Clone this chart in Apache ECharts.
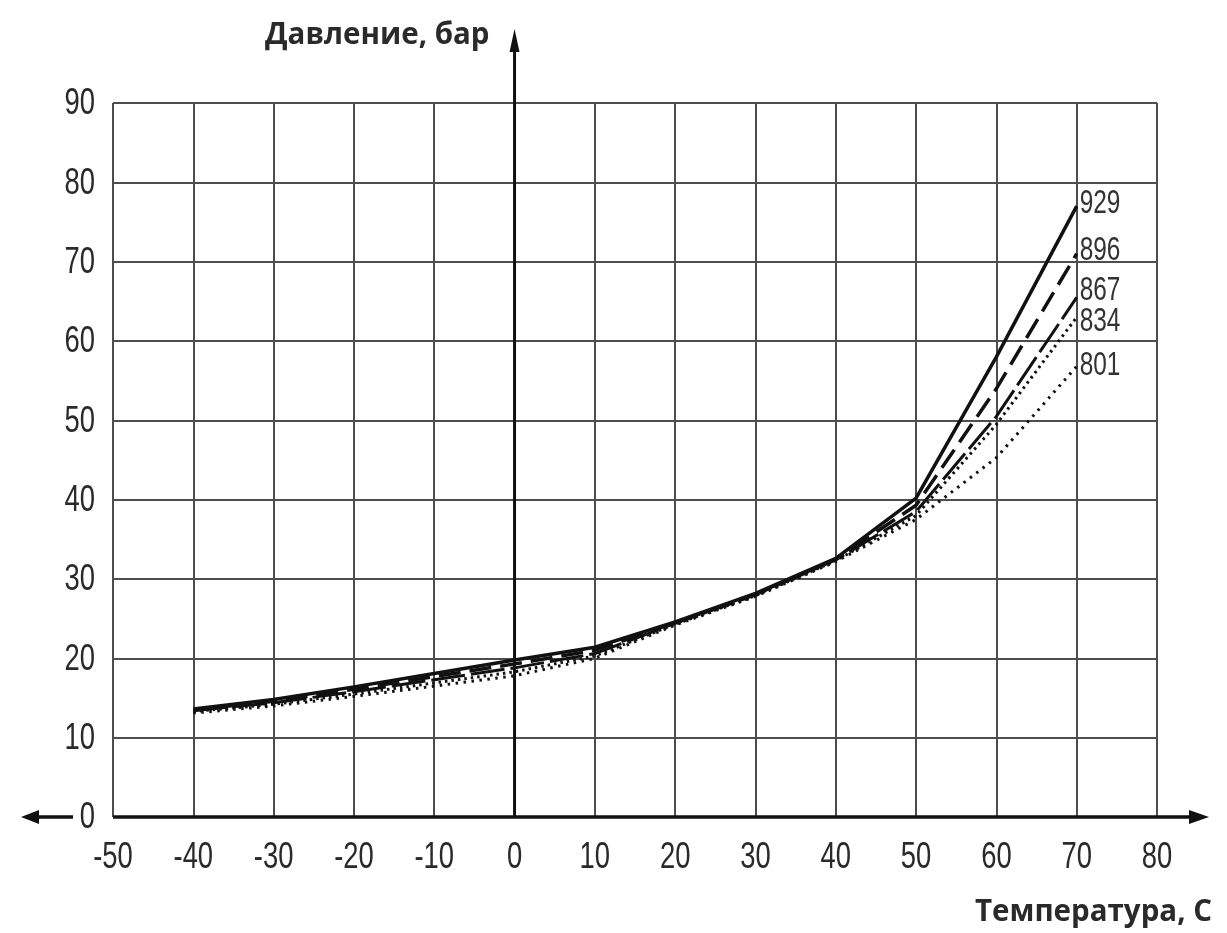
<!DOCTYPE html>
<html><head><meta charset="utf-8">
<script src="https://cdn.jsdelivr.net/npm/echarts@6/dist/echarts.min.js"></script>
<style>html,body{margin:0;padding:0;background:#fff}#c{width:1227px;height:933px}</style>
</head><body><div id="c"></div>
<script>
// ---- data ----
const temps = [-40, -30, -20, -10, 0, 10, 20, 30, 40, 50, 60, 70];
const s929 = [13.6, 14.8, 16.4, 18.1, 19.8, 21.4, 24.6, 28.2, 32.6, 40.2, 58.0, 77.0];
const s896 = [13.5, 14.6, 16.1, 17.7, 19.3, 21.0, 24.5, 28.1, 32.5, 39.3, 54.0, 71.0];
const s867 = [13.4, 14.4, 15.8, 17.3, 18.8, 20.6, 24.4, 28.0, 32.4, 38.5, 50.5, 65.5];
const s834 = [13.3, 14.2, 15.5, 16.9, 18.3, 20.3, 24.3, 27.9, 32.3, 38.0, 49.5, 63.0];
const s801 = [13.1, 14.0, 15.2, 16.5, 17.8, 20.0, 24.2, 27.8, 32.2, 37.5, 45.3, 56.8];
const seriesNames = ['929', '896', '867', '834', '801'];
const xTickLabels = ['-50', '-40', '-30', '-20', '-10', '0', '10', '20', '30', '40', '50', '60', '70', '80'];
const yTickLabels = ['0', '10', '20', '30', '40', '50', '60', '70', '80', '90'];
const xMin = -50, xMax = 80, xStep = 10;
const yMin = 0, yMax = 90, yStep = 10;
const xAxisTitle = 'Температура, С';
const yAxisTitle = 'Давление, бар';

// ---- styles ----
const narrowFont = "37px 'Liberation Sans', Arial, sans-serif";
const narrowScale = 0.74;
const endFont = "33px 'Liberation Sans', Arial, sans-serif";
const boldFont = "bold 29.5px 'Open Sans', 'Noto Sans', 'DejaVu Sans', sans-serif";
const textColor = '#2a2a2a';
const styles = [
  { type: 'solid', width: 3.5, dy: -2 },
  { type: [22, 9], width: 3.5, dy: -3 },
  { type: [34, 6], width: 3, dy: -6 },
  { type: [2.5, 4], width: 3, dy: 5 },
  { type: [2.5, 5.5], width: 3, dy: 0 }
];
const allValues = [s929, s896, s867, s834, s801];

const chart = echarts.init(document.getElementById('c'), null, { renderer: 'canvas' });
const series = allValues.map((vals, i) => ({
  name: seriesNames[i],
  type: 'line',
  data: temps.map((t, k) => [t, vals[k]]),
  symbol: 'none',
  smooth: false,
  lineStyle: { color: '#111', width: styles[i].width, type: styles[i].type },
  z: 5 - i
}));

chart.setOption({
  animation: false,
  backgroundColor: '#fff',
  grid: { left: 113, right: 70, top: 103, bottom: 116 },
  xAxis: {
    type: 'value', min: xMin, max: xMax, interval: xStep,
    axisLine: { show: false }, axisTick: { show: false },
    axisLabel: { show: false },
    splitLine: { show: true, lineStyle: { color: '#4d4d4d', width: 2 } }
  },
  yAxis: {
    type: 'value', min: yMin, max: yMax, interval: yStep,
    axisLine: { show: false }, axisTick: { show: false },
    axisLabel: { show: false },
    splitLine: { show: true, lineStyle: { color: '#4d4d4d', width: 2 } }
  },
  series: series
});

// positions via the chart's own scales
const px = (x, y) => chart.convertToPixel({ gridIndex: 0 }, [x, y]);
const O = px(0, 0);
const L = px(xMin, 0);
const R = px(xMax, 0);
const T = px(0, yMax);
const ink = '#111';

const narrowText = (text, x, y, align) => ({
  type: 'text', x: x, y: y, scaleX: narrowScale, silent: true, z: 20,
  style: { text: text, x: 0, y: 0, textAlign: align, textVerticalAlign: 'middle', font: narrowFont, fill: textColor }
});

const g = [];
xTickLabels.forEach(t => { const p = px(Number(t), 0); g.push(narrowText(t, p[0], p[1] + 41, 'center')); });
yTickLabels.forEach(t => { const p = px(xMin, Number(t)); g.push(narrowText(t, p[0] - 18, p[1] + 1, 'right')); });
seriesNames.forEach((n, i) => {
  const vals = allValues[i];
  const p = px(temps[temps.length - 1], vals[vals.length - 1]);
  g.push({
    type: 'text', x: p[0] + 3, y: p[1] + styles[i].dy, scaleX: narrowScale, silent: true, z: 20,
    style: { text: n, x: 0, y: 0, textAlign: 'left', textVerticalAlign: 'middle', font: endFont, fill: '#333' }
  });
});

g.push(
  // x axis main line + right arrow
  { type: 'line', shape: { x1: L[0], y1: O[1], x2: R[0] + 36, y2: O[1] }, style: { stroke: ink, lineWidth: 3.5 }, z: 20 },
  { type: 'polygon', shape: { points: [[R[0] + 52, O[1]], [R[0] + 32, O[1] - 7], [R[0] + 32, O[1] + 7]] }, style: { fill: ink }, z: 20 },
  // left arrow stub
  { type: 'line', shape: { x1: L[0] - 78, y1: O[1], x2: L[0] - 40, y2: O[1] }, style: { stroke: ink, lineWidth: 3.5 }, z: 20 },
  { type: 'polygon', shape: { points: [[L[0] - 92, O[1]], [L[0] - 74, O[1] - 7], [L[0] - 74, O[1] + 7]] }, style: { fill: ink }, z: 20 },
  // y axis line at x = 0 with up arrow
  { type: 'line', shape: { x1: O[0], y1: O[1], x2: O[0], y2: T[1] - 55 }, style: { stroke: ink, lineWidth: 3 }, z: 20 },
  { type: 'polygon', shape: { points: [[O[0], T[1] - 74], [O[0] - 5, T[1] - 51], [O[0] + 5, T[1] - 51]] }, style: { fill: ink }, z: 20 },
  // axis titles
  { type: 'text', style: { text: yAxisTitle, x: O[0] - 25, y: T[1] - 67, textAlign: 'right', textVerticalAlign: 'middle', font: boldFont, fill: textColor }, z: 20 },
  { type: 'text', style: { text: xAxisTitle, x: R[0] + 55, y: O[1] + 96, textAlign: 'right', textVerticalAlign: 'middle', font: boldFont, fill: textColor }, z: 20 }
);

chart.setOption({ graphic: g });
</script>
</body></html>
